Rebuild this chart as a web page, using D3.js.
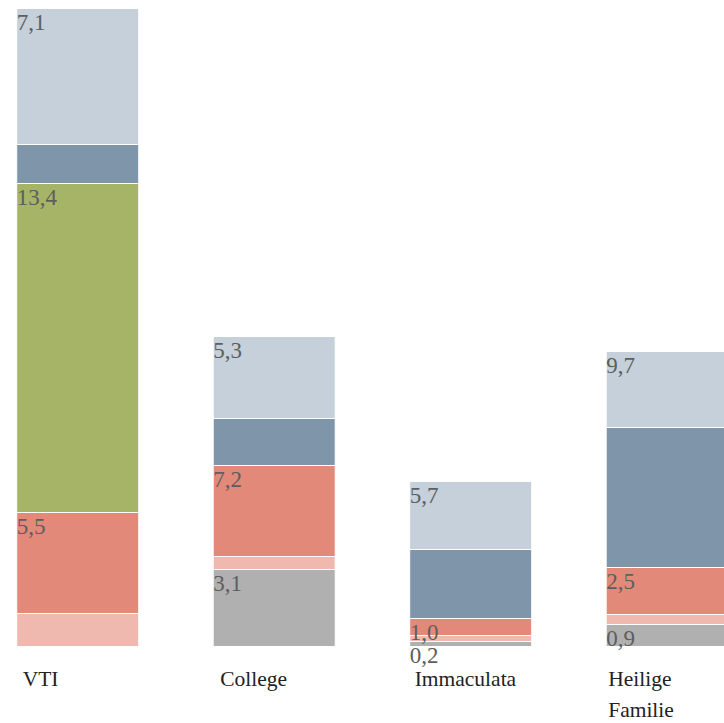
<!DOCTYPE html>
<html>
<head>
<meta charset="utf-8">
<script src="https://cdn.jsdelivr.net/npm/d3@7"></script>
<style>
  html, body { margin: 0; padding: 0; background: #fff; overflow: hidden; }
  svg { display: block; }
</style>
</head>
<body>
<svg id="chart" width="724" height="723"></svg>
<script>
// Schools shown as stacked columns
const categories = ["VTI", "College", "Immaculata", "Heilige Familie"];

// Segment sizes per group, bottom to top of each column
const grijs     = [0,    7.7, 0.5, 2.2];
const lichtrood = [3.3,  1.3, 0.6, 1.0];
const rood      = [10.1, 9.1, 1.7, 4.7];
const groen     = [32.9, 0,   0,   0];
const donker    = [3.9,  4.7, 6.9, 14.0];
const licht     = [13.6, 8.2, 6.8, 7.6];

// Figures printed on the segments (null = no figure)
const labelGrijs = [null, "3,1", "0,2", "0,9"];
const labelRood  = ["5,5", "7,2", "1,0", "2,5"];
const labelGroen = ["13,4", null, null, null];
const labelLicht = ["7,1", "5,3", "5,7", "9,7"];

const FONT = '"Liberation Serif"';

const series = [
  { key: "grijs",     values: grijs,     color: "#b0b0b0", labels: labelGrijs },
  { key: "lichtrood", values: lichtrood, color: "#f0b9af", labels: null },
  { key: "rood",      values: rood,      color: "#e3897a", labels: labelRood },
  { key: "groen",     values: groen,     color: "#a6b468", labels: labelGroen },
  { key: "donker",    values: donker,    color: "#7f96aa", labels: null },
  { key: "licht",     values: licht,     color: "#c5d0da", labels: labelLicht }
];

const rows = categories.map((c, i) => {
  const r = { cat: c };
  series.forEach(s => { r[s.key] = s.values[i]; });
  return r;
});

const stacked = d3.stack().keys(series.map(s => s.key))(rows);

const svg = d3.select("#chart");
const baseY = 646.5;

const x = d3.scaleBand()
  .domain(categories)
  .range([16.7, 728.2])
  .paddingInner(0.379)
  .paddingOuter(0);

const y = d3.scaleLinear()
  .domain([0, 64])
  .range([baseY, baseY - 640]);

const layers = svg.append("g")
  .selectAll("g")
  .data(stacked)
  .join("g")
  .attr("fill", (d, i) => series[i].color);

layers.selectAll("rect")
  .data(d => d.map(p => ({ p, cat: p.data.cat })).filter(d => d.p[1] - d.p[0] > 0))
  .join("rect")
  .attr("x", d => x(d.cat))
  .attr("width", x.bandwidth())
  .attr("y", d => y(d.p[1]))
  .attr("height", d => y(d.p[0]) - y(d.p[1]))
  .attr("stroke", "#fff")
  .attr("stroke-width", 1);

// Segment figures, anchored at the top-left corner of each segment
const valueLabels = svg.append("g");

stacked.forEach((layer, si) => {
  const labs = series[si].labels;
  if (!labs) return;
  layer.forEach((p, ci) => {
    if (!labs[ci]) return;
    valueLabels.append("text")
      .style("font-family", FONT)
      .attr("font-size", 23)
      .attr("fill", "#5e5e5e")
      .attr("x", x(categories[ci]))
      .attr("y", y(p[1]) + 21)
      .text(labs[ci]);
  });
});

// Category names under the columns, wrapped to the column width
const catLabels = svg.append("g");
const labelOffset = [6, 7, 5, 2];

categories.forEach((c, i) => {
  const lx = x(c) + labelOffset[i];
  const t = catLabels.append("text")
    .style("font-family", FONT)
    .attr("font-size", 21.5)
    .attr("fill", "#222")
    .attr("x", lx)
    .attr("y", 686);
  const words = c.split(" ");
  let line = [];
  let tspan = t.append("tspan").attr("x", lx).attr("dy", 0);
  words.forEach(w => {
    line.push(w);
    tspan.text(line.join(" "));
    if (tspan.node().getComputedTextLength() > x.bandwidth() && line.length > 1) {
      line.pop();
      tspan.text(line.join(" "));
      line = [w];
      tspan = t.append("tspan").attr("x", lx).attr("dy", 31).text(w);
    }
  });
});
</script>
</body>
</html>
